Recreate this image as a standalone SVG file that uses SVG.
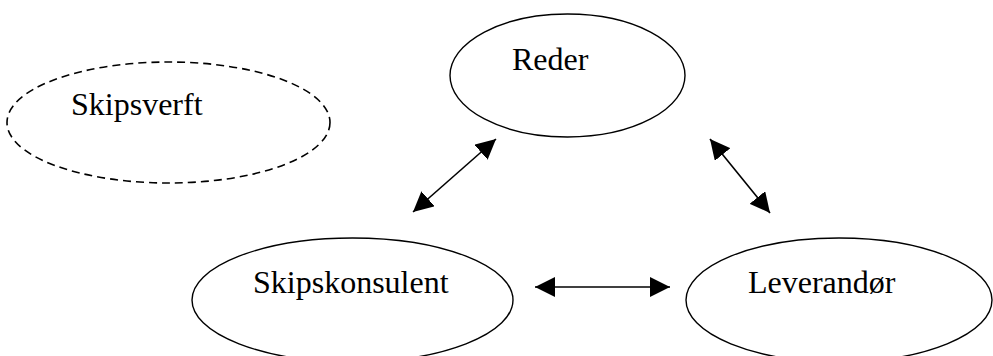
<svg xmlns="http://www.w3.org/2000/svg" width="993" height="356" viewBox="0 0 993 356">
  <style>
    .node { fill: #ffffff; stroke: #000000; stroke-width: 1.4; }
    .dashed { stroke-dasharray: 8 5; stroke-width: 1.6; }
    .label { font-family: "Liberation Serif", "Times New Roman", serif; font-size: 32px; fill: #000000; }
    .conn { stroke: #000000; stroke-width: 1.6; fill: none; marker-start: url(#arrow); marker-end: url(#arrow); }
  </style>
  <defs>
    <marker id="arrow" markerUnits="userSpaceOnUse" markerWidth="20" markerHeight="20" refX="20" refY="10" orient="auto-start-reverse" viewBox="0 0 20 20">
      <path d="M0,0 L20,10 L0,20 z" fill="#000000"/>
    </marker>
  </defs>
  <rect width="993" height="356" fill="#ffffff"/>
  <g id="skipsverft">
    <ellipse class="node dashed" cx="168.5" cy="122.5" rx="161.5" ry="60.5"/>
    <text class="label" x="71" y="115">Skipsverft</text>
  </g>
  <g id="reder">
    <ellipse class="node" cx="567.5" cy="75.5" rx="117.5" ry="61.5"/>
    <text class="label" x="512" y="70">Reder</text>
  </g>
  <g id="skipskonsulent">
    <ellipse class="node" cx="352.5" cy="300" rx="160.5" ry="62"/>
    <text class="label" x="253" y="293">Skipskonsulent</text>
  </g>
  <g id="leverandor">
    <ellipse class="node" cx="839" cy="300" rx="153" ry="62"/>
    <text class="label" x="748" y="293">Leverandør</text>
  </g>
  <g id="connectors">
    <line class="conn" x1="413" y1="212" x2="496" y2="139"/>
    <line class="conn" x1="710" y1="139" x2="770" y2="213"/>
    <line class="conn" x1="535" y1="287" x2="670" y2="287"/>
  </g>
</svg>
